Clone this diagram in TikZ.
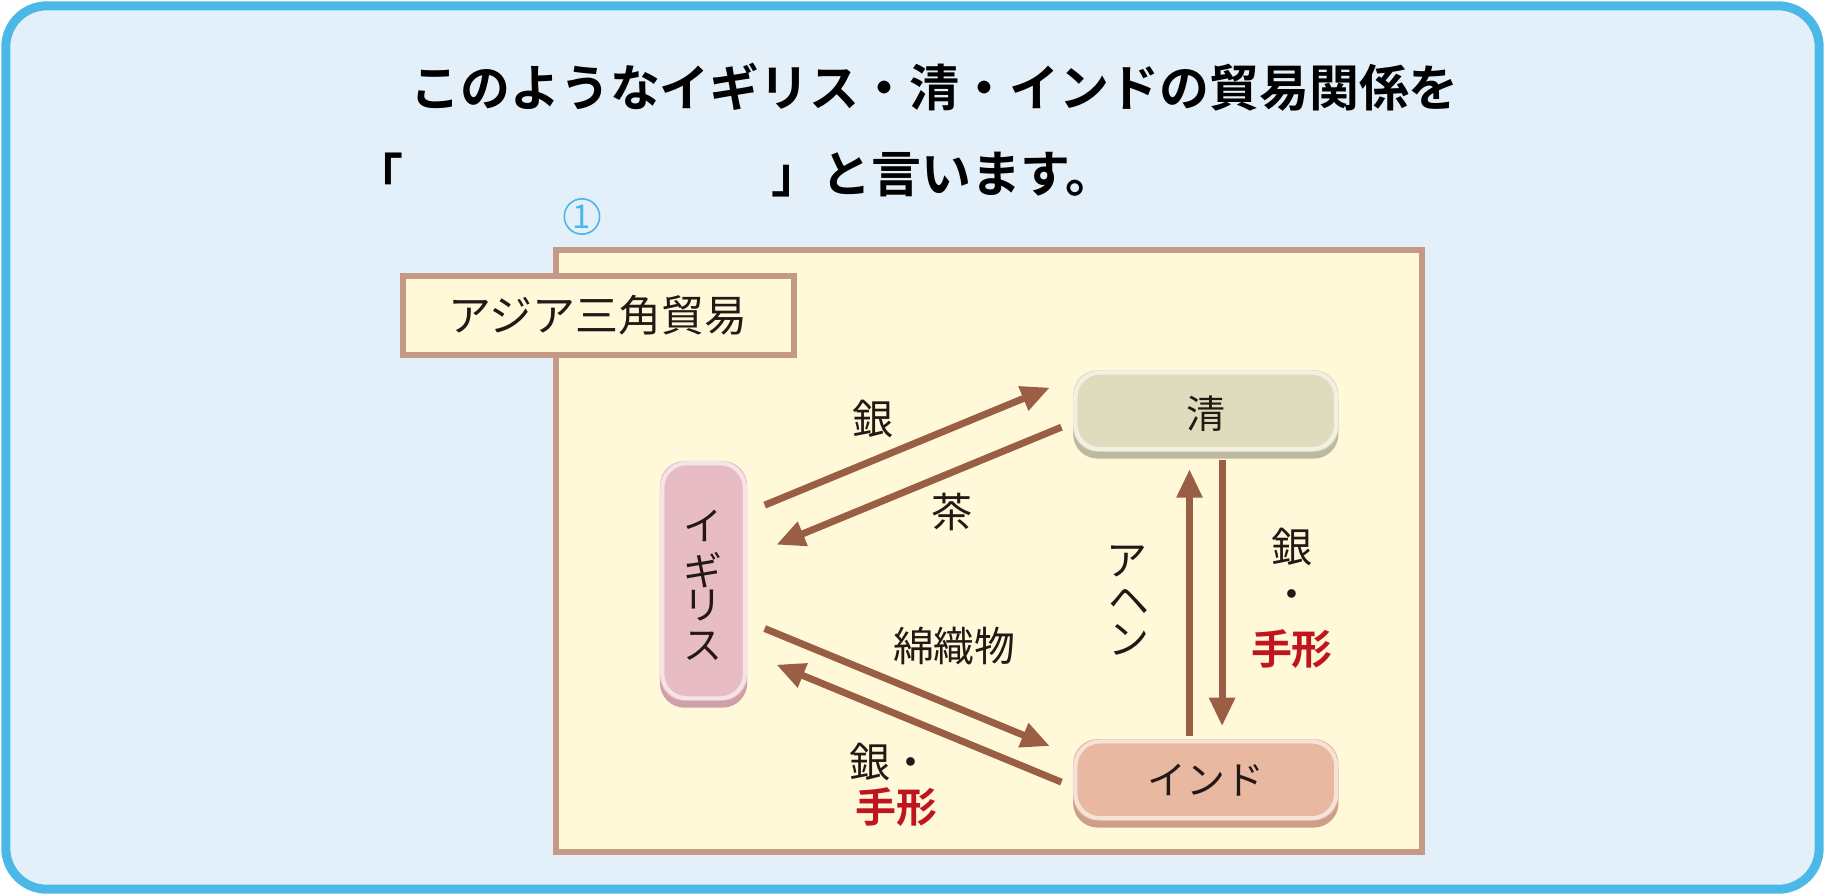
\documentclass[tikz,border=0pt]{standalone}
\usepackage{fontspec}
\setmainfont{Noto Sans CJK JP}
\newfontfamily\jpb{Noto Sans CJK JP Bold}
\usetikzlibrary{arrows.meta}
\definecolor{bluebd}{HTML}{4BB8E8}
\definecolor{bluebg}{HTML}{E3F0FA}
\definecolor{ybg}{HTML}{FFF9D9}
\definecolor{brbd}{HTML}{C49A86}
\definecolor{arr}{HTML}{9A5E45}
\definecolor{qing}{HTML}{DFDBBD}
\definecolor{qingd}{HTML}{BDB9A0}
\definecolor{ig}{HTML}{E8BCC4}
\definecolor{igd}{HTML}{CFA0A8}
\definecolor{ind}{HTML}{E8B8A0}
\definecolor{indd}{HTML}{CF9E88}
\definecolor{redt}{HTML}{C0141E}
\definecolor{txt}{HTML}{231815}
\begin{document}
\begin{tikzpicture}[x=0.01cm,y=-0.01cm,
  arrw/.style={draw=arr,line width=1.7pt,-{Triangle[length=7pt,width=6pt]}},
  lbl/.style={font=\fontsize{10}{12}\selectfont,text=txt,inner sep=0},
  nd/.style={font=\fontsize{9.5}{13}\selectfont,text=txt,inner sep=0},
  ttlf/.style={font=\jpb\fontsize{12.2}{14}\selectfont,inner sep=0}]
\useasboundingbox (0,0) rectangle (1568,769);
\draw[draw=bluebd,fill=bluebg,line width=2.2pt,rounded corners=10pt] (5,5) rectangle (1563,764);
\node[ttlf] (t1) at (803,75) {このようなイギリス・清・インドの貿易関係を};
\node[ttlf] (t2a) at (325,150) {「};
\node[ttlf,anchor=west] (t2b) at (662,150) {」と言います。};
\node[text=bluebd,font=\fontsize{8}{10}\selectfont,draw=bluebd,circle,inner sep=0.5pt,line width=0.4pt] (c1) at (500,186) {1};
\draw[draw=brbd,fill=ybg,line width=1.4pt] (478,215) rectangle (1222,732);
\draw[draw=brbd,fill=ybg,line width=1.4pt] (346,237) rectangle (682,305);
\node[font=\fontsize{10.5}{12}\selectfont,text=txt,inner sep=0] (ajia) at (514,271) {アジア三角貿易};
% nodes
\fill[qingd,rounded corners=6pt] (922,324) rectangle (1150,394);
\fill[qing,rounded corners=6pt] (922,318) rectangle (1150,388);
\draw[white,opacity=0.6,line width=1pt,rounded corners=6pt] (924,320) rectangle (1148,386);
\node[nd] (qn) at (1036,355) {清};
\fill[igd,rounded corners=6pt] (567,402) rectangle (642,608);
\fill[ig,rounded corners=6pt] (567,396) rectangle (642,602);
\draw[white,opacity=0.6,line width=1pt,rounded corners=6pt] (569,398) rectangle (640,600);
\node[nd] (en1) at (604,452) {イ};
\node[nd] (en2) at (604,490) {ギ};
\node[nd] (en3) at (604,520) {リ};
\node[nd] (en4) at (604,555) {ス};
\fill[indd,rounded corners=6pt] (922,641) rectangle (1150,711);
\fill[ind,rounded corners=6pt] (922,635) rectangle (1150,705);
\draw[white,opacity=0.6,line width=1pt,rounded corners=6pt] (924,637) rectangle (1148,703);
\node[nd] (in) at (1036,670) {インド};
% arrows
\coordinate (a1s) at (657,434); \coordinate (a1e) at (902,333);
\coordinate (a2s) at (912,367); \coordinate (a2e) at (667,468);
\coordinate (a3s) at (657,540); \coordinate (a3e) at (902,641);
\coordinate (a4s) at (912,672); \coordinate (a4e) at (667,571);
\coordinate (a5s) at (1022,632); \coordinate (a5e) at (1022,403);
\coordinate (a6s) at (1050,395); \coordinate (a6e) at (1050,624);
\draw[arrw] (a1s) -- (a1e);
\draw[arrw] (a2s) -- (a2e);
\draw[arrw] (a3s) -- (a3e);
\draw[arrw] (a4s) -- (a4e);
\draw[arrw] (a5s) -- (a5e);
\draw[arrw] (a6s) -- (a6e);
\node[lbl] (l1) at (750,360) {銀};
\node[lbl] (l2) at (818,440) {茶};
\node[lbl] (l3) at (820,555) {綿織物};
\node[lbl] (l4) at (765,655) {銀・};
\node[lbl,text=redt,font=\jpb\fontsize{10}{12}\selectfont] (l4b) at (770,693) {手形};
\node[lbl] (l5a) at (968,482) {ア};
\node[lbl] (l5b) at (970,517) {ヘ};
\node[lbl] (l5c) at (970,550) {ン};
\node[lbl] (l6) at (1110,470) {銀};
\node[lbl] (l6b) at (1110,515) {・};
\node[lbl,text=redt,font=\jpb\fontsize{10}{12}\selectfont] (l6c) at (1110,558) {手形};
\end{tikzpicture}
\end{document}
